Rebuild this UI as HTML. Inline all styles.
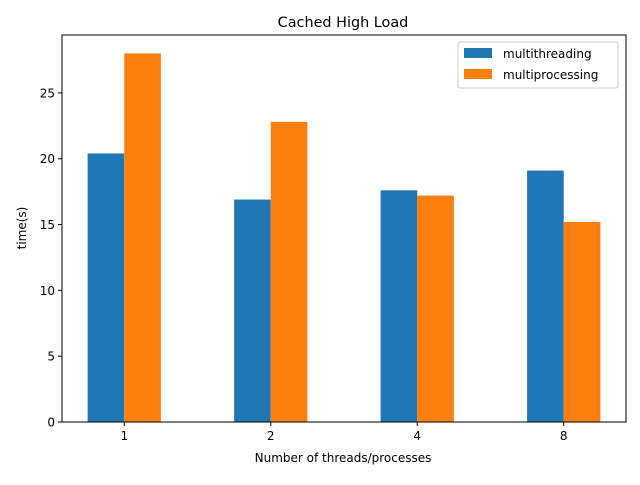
<!DOCTYPE html>
<html><head><meta charset="utf-8"><style>
body{margin:0;background:#fff;font-family:"Liberation Sans","DejaVu Sans",sans-serif}
svg text{font-family:"DejaVu Sans","Liberation Sans",sans-serif;fill:#000}
</style></head><body>
<svg id="chart" width="640" height="480" xmlns="http://www.w3.org/2000/svg">
<rect width="640" height="480" fill="#fff"/>
<text x="343" y="27" font-size="14.4" text-anchor="middle">Cached High Load</text>
<g id="plot"></g>
<rect x="62" y="35" width="564" height="387" fill="none" stroke="#000" stroke-width="1"/>
<text x="343" y="462" font-size="12" text-anchor="middle">Number of threads/processes</text>
<text transform="translate(26,228) rotate(-90)" font-size="12" text-anchor="middle">time(s)</text>
<g>
<rect x="458" y="42" width="160" height="46" rx="2" fill="#fff" fill-opacity="0.8" stroke="#ccc"/>
<rect x="464" y="48" width="28" height="10" fill="#1f77b4"/>
<text x="503" y="58" font-size="12">multithreading</text>
<rect x="464" y="69" width="28" height="10" fill="#ff7f0e"/>
<text x="503" y="79" font-size="12">multiprocessing</text>
</g>
</svg>
<script>
const categories=["1","2","4","8"];
const multithreading=[20.4,16.9,17.6,19.1];
const multiprocessing=[28.0,22.8,17.2,15.2];
const yTicks=[0,5,10,15,20,25];
const L=62,R=626,T=35,B=422;
const n=categories.length;
const xmin=-0.425,xmax=(n-1)+0.425;
const allVals=multithreading.concat(multiprocessing);
const ymax=Math.max.apply(null,allVals)*1.05;
const xs=v=>L+(v-xmin)/(xmax-xmin)*(R-L);
const ys=v=>B-v/ymax*(B-T);
const g=document.getElementById('plot');
const NS='http://www.w3.org/2000/svg';
function mk(t,a){const e=document.createElementNS(NS,t);for(const k in a)e.setAttribute(k,a[k]);g.appendChild(e);return e;}
const w=0.25;
[[multithreading,'#1f77b4',-0.125,'multithreading'],[multiprocessing,'#ff7f0e',0.125,'multiprocessing']].forEach(([vals,col,off,nm])=>{
 vals.forEach((v,i)=>{
  const x0=xs(i+off-w/2),x1=xs(i+off+w/2);
  const r=mk('rect',{x:x0,y:ys(v),width:x1-x0,height:ys(0)-ys(v),fill:col});
  
  
 });
});
categories.forEach((c,i)=>{
 const x=xs(i);
 const tk=mk('line',{x1:x,x2:x,y1:B,y2:B+4,stroke:'#000'});
 
 
 const t=mk('text',{x:x,y:B+18,'font-size':12,'text-anchor':'middle'});t.textContent=c;
 
 
});
yTicks.forEach(v=>{
 const y=ys(v);
 const tk=mk('line',{x1:L-4,x2:L,y1:y,y2:y,stroke:'#000'});
 
 
 const t=mk('text',{x:L-7,y:y+4.5,'font-size':12,'text-anchor':'end'});t.textContent=v;
 
 
});
</script>
</body></html>
